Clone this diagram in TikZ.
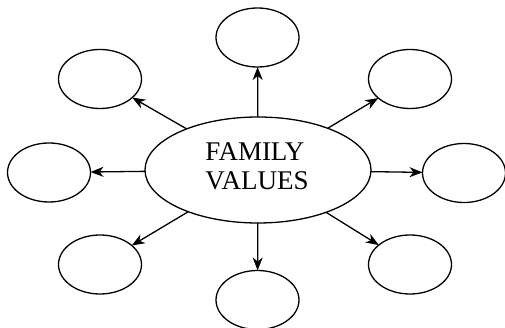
\documentclass[tikz,border=0pt]{standalone}
\usepackage{fontspec}
\setmainfont{Liberation Serif}
\usetikzlibrary{shapes.geometric,arrows.meta}
\begin{document}
\begin{tikzpicture}[x=1pt,y=-1pt,
  bubble/.style={ellipse,draw,line width=1.3pt,inner sep=0pt,outer sep=0pt,minimum width=83pt,minimum height=59pt},
  hub/.style={ellipse,draw,line width=1.3pt,inner sep=0pt,outer sep=0pt,minimum width=226pt,minimum height=106pt},
  link/.style={line width=1.3pt,-{Stealth[length=13pt,width=10pt,inset=4pt]}}]
\useasboundingbox (0,0) rectangle (505,328);
\node[hub] (c) at (258,170) {};
\node[align=left,inner sep=0pt,font=\fontsize{27}{29}\selectfont] (txt) at (257,166.5) {FAMILY\\VALUES};
\node[bubble] (t) at (257.5,37.5) {};
\node[bubble] (tl) at (100,79) {};
\node[bubble] (tr) at (410,79) {};
\node[bubble] (l) at (49,172.5) {};
\node[bubble] (r) at (464,173) {};
\node[bubble] (bl) at (100,264.5) {};
\node[bubble] (b) at (257.5,300) {};
\node[bubble] (br) at (410,264.5) {};
\foreach \n in {t,tl,tr,l,r,bl,b,br} \draw[link] (c) -- (\n);
\end{tikzpicture}
\end{document}
